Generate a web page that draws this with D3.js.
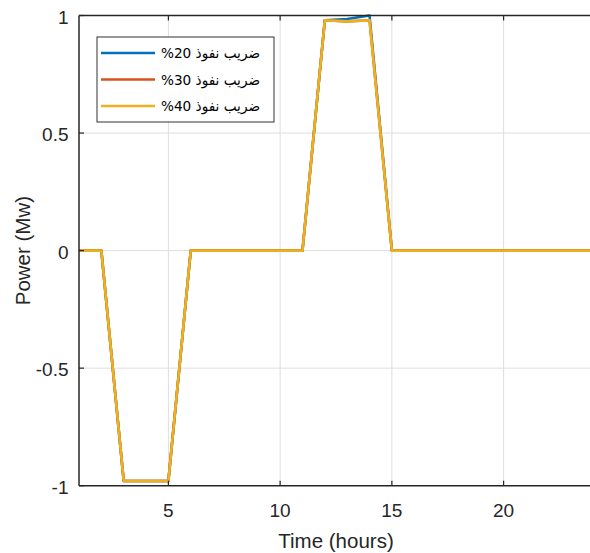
<!DOCTYPE html>
<html lang="en">
<head>
<meta charset="UTF-8">
<title>Power vs Time</title>
<script src="https://d3js.org/d3.v7.min.js"></script>
<style>
  body { margin: 0; background: #fff; }
  svg { display: block; font-family: "Liberation Sans", Arial, "DejaVu Sans", sans-serif; }
  .grid line { stroke: #dedede; stroke-width: 1; }
  .tick-label { font-size: 19px; fill: #262626; }
  .axis-title { font-size: 20.5px; fill: #262626; }
  .legend-text { font-size: 14.5px; fill: #000; font-family: "DejaVu Sans", "Liberation Sans", sans-serif; }
</style>
</head>
<body>
<div id="chart"></div>
<script>
  // Data
  const hours = d3.range(1, 25);
  const penetration20 = [0, 0, -0.98, -0.98, -0.98, 0, 0, 0, 0, 0, 0, 0.98, 0.985, 1.0, 0, 0, 0, 0, 0, 0, 0, 0, 0, 0];
  const penetration30 = [0, 0, -0.98, -0.98, -0.98, 0, 0, 0, 0, 0, 0, 0.98, 0.975, 0.98, 0, 0, 0, 0, 0, 0, 0, 0, 0, 0];
  const penetration40 = [0, 0, -0.98, -0.98, -0.98, 0, 0, 0, 0, 0, 0, 0.98, 0.975, 0.98, 0, 0, 0, 0, 0, 0, 0, 0, 0, 0];
  // legend labels, written in visual order (percentage on the left)
  const seriesNames = ["%20 ضريب نفوذ", "%30 ضريب نفوذ", "%40 ضريب نفوذ"];
  const seriesColors = ["#0072BD", "#D95319", "#EDB120"];
  const xTicks = [5, 10, 15, 20];
  const yTicks = [-1, -0.5, 0, 0.5, 1];

  const width = 590, height = 553;
  const plot = { left: 79, top: 15.5, right: 593, bottom: 485.7 };

  const x = d3.scaleLinear().domain([1, 24]).range([plot.left, plot.right]);
  const y = d3.scaleLinear().domain([-1, 1]).range([plot.bottom, plot.top]);

  const svg = d3.select('#chart').append('svg')
    .attr('width', width)
    .attr('height', height);

  // Grid
  const grid = svg.append('g').attr('class', 'grid');
  grid.selectAll('.gx').data(xTicks).enter().append('line')
    .attr('x1', d => x(d)).attr('x2', d => x(d))
    .attr('y1', plot.top).attr('y2', plot.bottom);
  grid.selectAll('.gy').data(yTicks.filter(d => d > -1 && d < 1)).enter().append('line')
    .attr('x1', plot.left).attr('x2', plot.right)
    .attr('y1', d => y(d)).attr('y2', d => y(d));

  // Lines
  const line = d3.line()
    .x((d, i) => x(hours[i]))
    .y(d => y(d));

  [penetration20, penetration30, penetration40].forEach((s, i) => {
    svg.append('path')
      .datum(s)
      .attr('d', line)
      .attr('fill', 'none')
      .attr('stroke', seriesColors[i])
      .attr('stroke-width', 2.6)
      .attr('stroke-linejoin', 'round');
  });

  // Axes (box style, ticks inward)
  const axisColor = '#262626';
  const box = svg.append('g');
  box.append('line').attr('x1', plot.left).attr('x2', plot.right)
    .attr('y1', plot.bottom).attr('y2', plot.bottom)
    .attr('stroke', axisColor).attr('stroke-width', 1.5);
  box.append('line').attr('x1', plot.left).attr('x2', plot.right)
    .attr('y1', plot.top).attr('y2', plot.top)
    .attr('stroke', axisColor).attr('stroke-width', 1.5);
  box.append('line').attr('x1', plot.left).attr('x2', plot.left)
    .attr('y1', plot.top).attr('y2', plot.bottom)
    .attr('stroke', axisColor).attr('stroke-width', 1.5);

  xTicks.forEach(t => {
    box.append('line').attr('x1', x(t)).attr('x2', x(t))
      .attr('y1', plot.bottom).attr('y2', plot.bottom - 5)
      .attr('stroke', axisColor).attr('stroke-width', 1.2);
    box.append('line').attr('x1', x(t)).attr('x2', x(t))
      .attr('y1', plot.top).attr('y2', plot.top + 5)
      .attr('stroke', axisColor).attr('stroke-width', 1.2);
  });
  yTicks.forEach(t => {
    box.append('line').attr('x1', plot.left).attr('x2', plot.left + 5)
      .attr('y1', y(t)).attr('y2', y(t))
      .attr('stroke', axisColor).attr('stroke-width', 1.2);
  });

  // Tick labels
  svg.selectAll('.xlab').data(xTicks).enter().append('text')
    .attr('class', 'tick-label')
    .attr('x', d => x(d))
    .attr('y', plot.bottom + 31)
    .attr('text-anchor', 'middle')
    .text(d => d);

  svg.selectAll('.ylab').data(yTicks).enter().append('text')
    .attr('class', 'tick-label')
    .attr('x', plot.left - 10.5)
    .attr('y', d => y(d) + 8)
    .attr('text-anchor', 'end')
    .text(d => d);

  // Axis titles
  svg.append('text')
    .attr('class', 'axis-title')
    .attr('x', 336)
    .attr('y', plot.bottom + 62)
    .attr('text-anchor', 'middle')
    .text('Time (hours)');

  svg.append('text')
    .attr('class', 'axis-title')
    .attr('transform', `translate(30, ${y(0)}) rotate(-90)`)
    .attr('text-anchor', 'middle')
    .text('Power (Mw)');

  // Legend
  const legend = svg.append('g');
  legend.append('rect')
    .attr('x', 97).attr('y', 37)
    .attr('width', 177).attr('height', 85)
    .attr('fill', '#fff')
    .attr('stroke', '#333').attr('stroke-width', 1);

  seriesNames.forEach((name, i) => {
    const ly = 53 + i * 26.5;
    legend.append('line')
      .attr('x1', 101).attr('x2', 155)
      .attr('y1', ly).attr('y2', ly)
      .attr('stroke', seriesColors[i])
      .attr('stroke-width', 2.6);
    legend.append('text')
      .attr('class', 'legend-text')
      .attr('x', 260)
      .attr('y', ly + 5)
      .attr('text-anchor', 'end')
      .attr('textLength', 99)
      .attr('lengthAdjust', 'spacingAndGlyphs')
      .text(name);
  });
</script>
</body>
</html>
